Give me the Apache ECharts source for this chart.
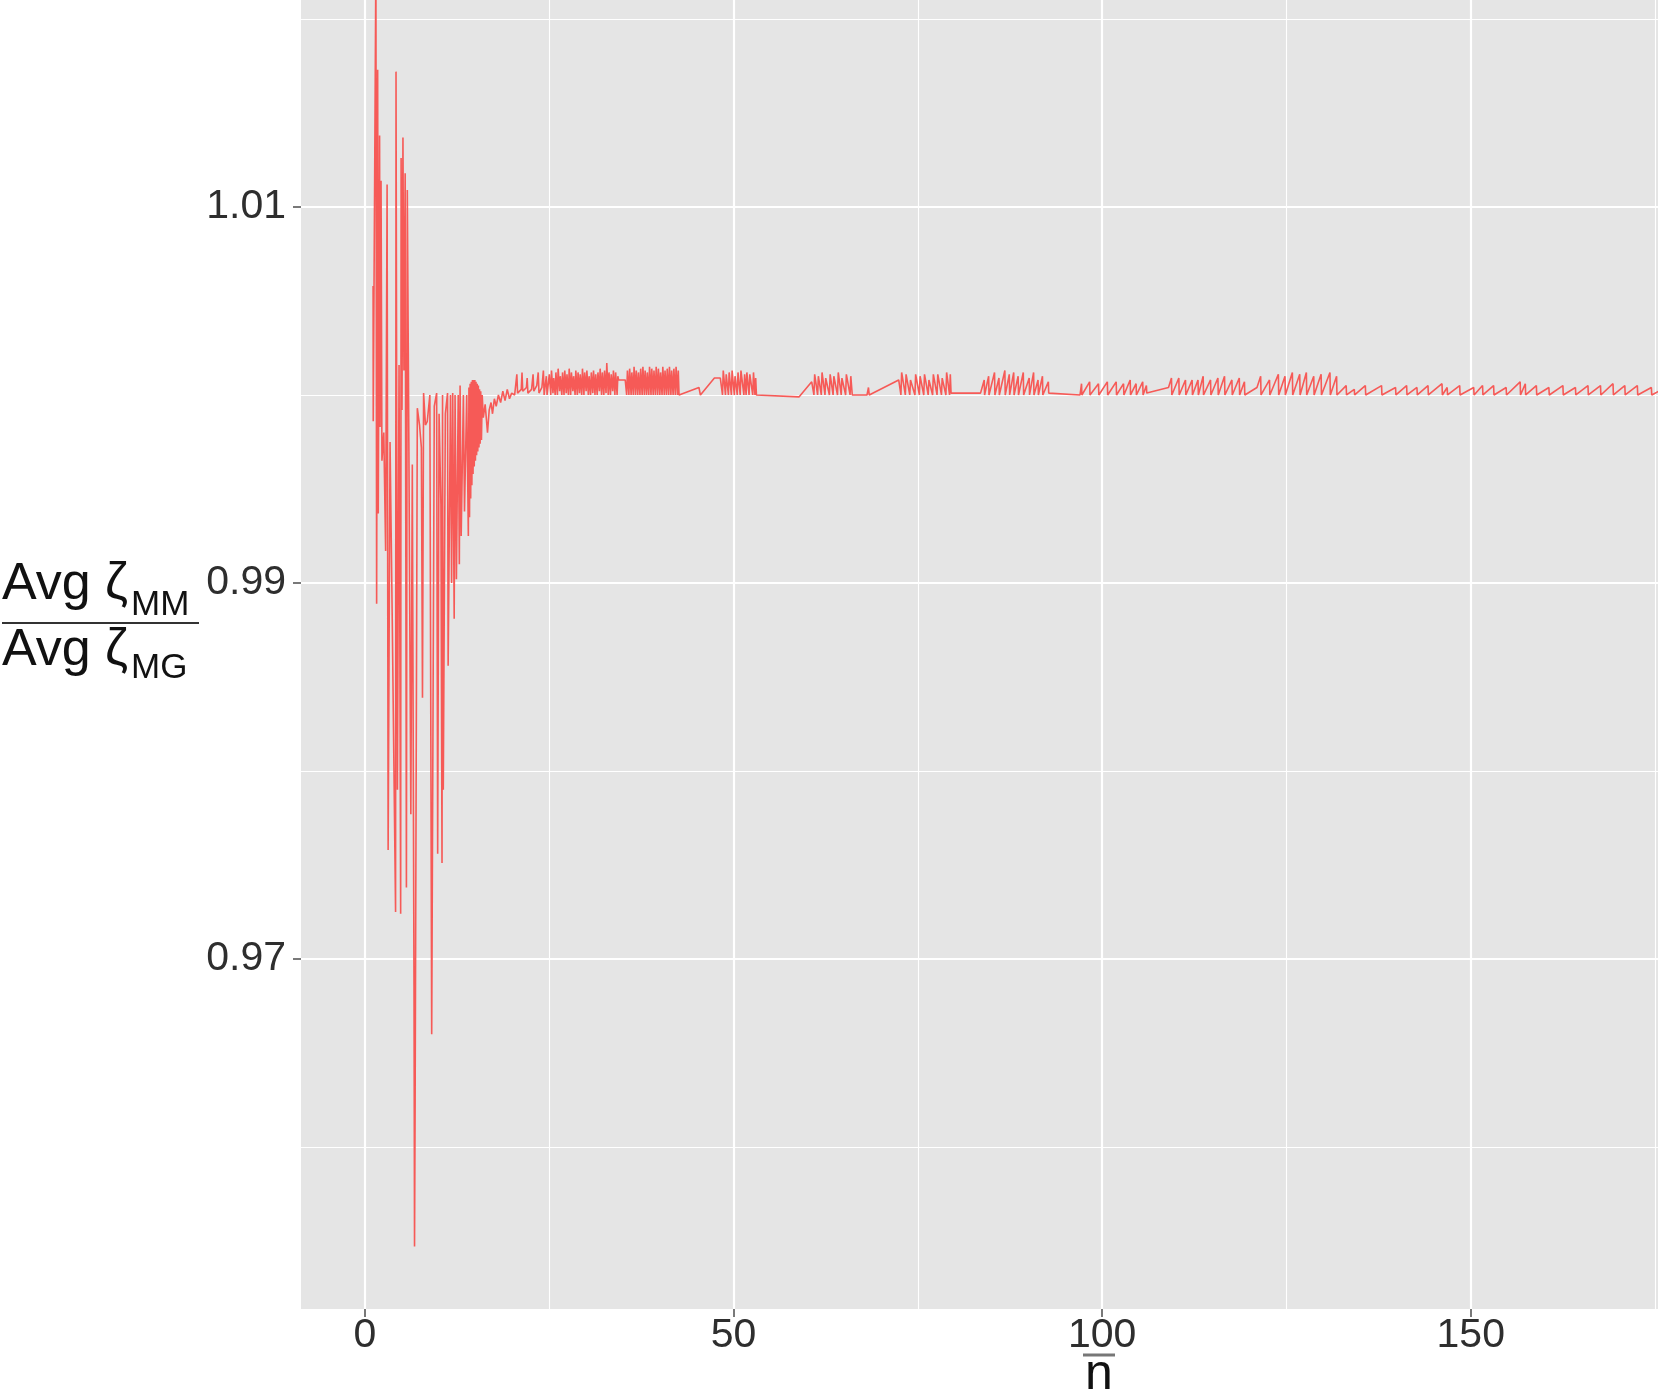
<!DOCTYPE html>
<html>
<head>
<meta charset="utf-8">
<script src="https://cdn.jsdelivr.net/npm/echarts@6/dist/echarts.min.js"></script>
<style>
  html, body { margin: 0; padding: 0; background: #fff; }
  #plot { width: 1658px; height: 1400px; }
</style>
</head>
<body>
<div id="plot"></div>
<script>
// tick positions
const xMajor = [0, 50, 100, 150]
const xMinor = [25, 75, 125, 175]
const yMajor = [0.97, 0.99, 1.01]
const yMinor = [0.96, 0.98, 1.00, 1.02]

// [n bar, Avg zeta_MM / Avg zeta_MG]
const burnIn = [
  [1.10,1.0058],[1.12,0.9986],[1.48,1.0230],[1.58,0.9889],[1.72,1.0173],[1.80,0.9937],
  [1.98,1.0138],[2.05,0.9983],[2.18,1.0114],[2.30,0.9965],[2.55,0.9980],[2.80,0.9917],
  [3.00,1.0112],[3.14,0.9758],[3.40,0.9975],[3.70,0.9880],[4.15,0.9725],[4.21,1.0172],
  [4.40,0.9790],[4.62,1.0016],[4.84,0.9724],[4.90,1.0126],[5.02,0.9992],[5.15,1.0137],
  [5.28,1.0013],[5.45,1.0118],[5.62,0.9738],[5.74,1.0109],[5.95,0.9975],[6.22,0.9777],
  [6.42,0.9963],[6.65,0.9686],[6.72,0.9547],[6.80,0.9622],[7.10,0.9993],[7.40,0.9984],
  [7.65,0.9972],[7.80,0.9839],[7.95,1.0001],[8.20,0.9984],[8.45,0.9986],[8.80,1.0000],
  [9.05,0.9660],[9.40,0.9994],[9.72,1.0001],[9.86,0.9756],[10.05,0.9990],[10.30,0.9942],
  [10.45,0.9751],[10.52,1.0000],[10.62,0.9790],[10.90,0.9990],[11.20,1.0001],[11.28,0.9856],
  [11.60,1.0000],[11.75,0.9900],[11.90,1.0001],[12.10,0.9881],[12.22,1.0000],[12.40,0.9902],
  [12.65,1.0000],[12.80,0.9910],[12.90,1.0005],[13.05,0.9925],[13.35,1.0000],[13.50,0.9938],
  [13.80,1.0000],[14.02,0.9925]
]

const settle = [
  [14.10,1.0004],[14.18,0.9935],[14.26,1.0006],[14.34,0.9945],[14.42,1.0007],[14.50,0.9952],
  [14.58,1.0008],[14.66,0.9958],[14.74,1.0008],[14.82,0.9962],[14.90,1.0008],[14.98,0.9965],
  [15.06,1.0007],[15.14,0.9968],[15.22,1.0006],[15.30,0.9970],[15.38,1.0005],[15.46,0.9972],
  [15.54,1.0003],[15.62,0.9974],[15.70,1.0002],[15.80,0.9976],[15.90,1.0000],[16.05,0.9988],
  [16.30,0.9995],[16.62,0.9980],[16.85,0.9992],[17.10,0.9996],[17.30,0.9990],[17.55,0.9998],
  [17.80,0.9994],[18.10,1.0000],[18.40,0.9996],[18.70,1.0002],[19.00,0.9997],[19.30,1.0003],
  [19.60,0.9998],[19.90,1.0001],
  [20.3,1.0000],[20.6,1.0011],[20.7,1.0001],[21.2,1.0003],[21.3,1.0012],[21.4,1.0002],
  [21.9,1.0004],[22.0,1.0009],[22.1,1.0001],[22.6,1.0003],[22.8,1.0011],[22.9,1.0002],
  [23.3,1.0005],[23.5,1.0012],[23.6,1.0001],[24.0,1.0004],[24.2,1.0013],[24.3,1.0000],
  [24.6,1.0010],[24.7,1.0000]
]

const block1 = [
  [24.9,1.0000],[25.0,1.0011],[25.2,1.0000],[25.3,1.0013],[25.5,1.0001],[25.6,1.0009],[25.8,1.0000],[25.9,1.0012],
  [26.1,1.0000],[26.2,1.0014],[26.4,1.0002],[26.5,1.0010],[26.7,1.0000],[26.8,1.0012],[27.0,1.0000],[27.1,1.0013],
  [27.3,1.0001],[27.4,1.0011],[27.6,1.0000],[27.7,1.0014],[27.9,1.0000],[28.0,1.0012],[28.2,1.0002],[28.3,1.0010],
  [28.5,1.0000],[28.6,1.0013],[28.8,1.0000],[28.9,1.0012],[29.1,1.0001],[29.2,1.0011],[29.4,1.0000],[29.5,1.0014],
  [29.7,1.0000],[29.8,1.0012],[30.0,1.0002],[30.1,1.0013],[30.3,1.0000],[30.4,1.0010],[30.6,1.0000],[30.7,1.0012],
  [30.9,1.0001],[31.0,1.0013],[31.2,1.0000],[31.3,1.0011],[31.5,1.0000],[31.6,1.0012],[31.8,1.0002],[31.9,1.0014],
  [32.1,1.0000],[32.2,1.0012],[32.4,1.0000],[32.5,1.0013],[32.7,1.0001],[32.8,1.0017],[33.0,1.0000],[33.1,1.0012],
  [33.3,1.0000],[33.4,1.0011],[33.6,1.0002],[33.7,1.0013],[33.9,1.0000],[34.0,1.0012],[34.2,1.0000],[34.3,1.0010],
  [34.4,1.0008],[35.3,1.0008],
  [35.5,1.0000],[35.6,1.0013],[35.8,1.0000],[35.9,1.0014],[36.1,1.0000],[36.2,1.0012],[36.4,1.0000],[36.5,1.0015],
  [36.7,1.0000],[36.8,1.0013],[37.0,1.0000],[37.1,1.0012],[37.3,1.0000],[37.4,1.0014],[37.6,1.0000],[37.7,1.0015],
  [37.9,1.0000],[38.0,1.0013],[38.2,1.0000],[38.3,1.0012],[38.5,1.0000],[38.6,1.0015],[38.8,1.0000],[38.9,1.0014],
  [39.1,1.0000],[39.2,1.0013],[39.4,1.0000],[39.5,1.0015],[39.7,1.0000],[39.8,1.0014],[40.0,1.0000],[40.1,1.0012],
  [40.3,1.0000],[40.4,1.0015],[40.6,1.0000],[40.7,1.0013],[40.9,1.0000],[41.0,1.0014],[41.2,1.0000],[41.3,1.0015],
  [41.5,1.0000],[41.6,1.0013],[41.8,1.0000],[41.9,1.0014],[42.1,1.0000],[42.2,1.0015],[42.4,1.0000],[42.5,1.0013],
  [42.6,1.0000]
]

const block2 = [
  [45.3,1.0004],[45.5,1.0000],[47.4,1.0009],[48.2,1.0009],
  [48.5,1.0000],[48.6,1.0013],[48.9,1.0000],[49.0,1.0011],[49.3,1.0000],[49.4,1.0012],[49.7,1.0000],[49.8,1.0013],
  [50.1,1.0000],[50.2,1.0010],[50.5,1.0000],[50.6,1.0012],[50.9,1.0000],[51.0,1.0013],[51.4,1.0000],[51.5,1.0011],
  [51.7,1.0000],[51.8,1.0012],[52.1,1.0000],[52.2,1.0011],[52.6,1.0000],[52.7,1.0012],[52.9,1.0000],[53.0,1.0009],
  [53.1,1.0000],[58.9,0.9999]
]

const block3 = [
  [60.6,1.0007],
  [60.9,1.0000],[61.0,1.0011],[61.4,1.0000],[61.5,1.0010],[61.9,1.0000],[62.0,1.0012],[62.4,1.0000],[62.5,1.0009],
  [63.0,1.0000],[63.1,1.0011],[63.5,1.0000],[63.6,1.0010],[64.1,1.0000],[64.2,1.0012],[64.6,1.0000],[64.7,1.0009],
  [65.2,1.0000],[65.3,1.0011],[65.8,1.0000],[65.9,1.0010],[66.1,1.0000],
  [68.1,1.0000],[68.3,1.0004],[68.4,1.0000],[72.4,1.0008],
  [72.7,1.0000],[72.8,1.0012],[73.3,1.0000],[73.4,1.0011],[73.9,1.0000],[74.0,1.0008],[74.6,1.0000],[74.7,1.0011],
  [75.2,1.0000],[75.3,1.0010],[75.8,1.0000],[75.9,1.0011],[76.4,1.0000],[76.5,1.0008],[77.0,1.0000],[77.1,1.0011],
  [77.6,1.0000],[77.7,1.0011],[78.2,1.0000],[78.3,1.0009],[78.8,1.0000],[78.9,1.0012],[79.3,1.0000],[79.4,1.0011],
  [79.5,1.0001],[83.5,1.0001]
]

const teethMid = [
  [84.0,1.0008],[84.05,1.0000],[84.6,1.0010],[84.65,1.0000],[85.4,1.0012],[85.45,1.0000],[86.0,1.0009],[86.05,1.0000],
  [86.8,1.0013],[86.85,1.0000],[87.4,1.0011],[87.45,1.0000],[88.0,1.0012],[88.05,1.0000],[88.6,1.0010],[88.65,1.0000],
  [89.3,1.0012],[89.35,1.0000],[90.1,1.0009],[90.15,1.0000],[90.7,1.0012],[90.75,1.0000],[91.3,1.0008],[91.35,1.0000],
  [91.9,1.0010],[91.95,1.0000],[92.7,1.0007],[92.75,1.0001],
  [97.0,1.0000],[97.2,1.0006],[97.25,1.0000],
  [98.3,1.0007],[98.35,1.0000],[99.5,1.0006],[99.55,1.0000],[100.7,1.0007],[100.75,1.0000],[101.9,1.0007],[101.95,1.0000],
  [102.9,1.0006],[102.95,1.0000],[103.8,1.0008],[103.85,1.0000],[104.6,1.0006],[104.65,1.0000],[105.5,1.0007],[105.55,1.0000],
  [106.0,1.0005],[106.05,1.0001],[109.0,1.0004],
  [109.4,1.0009],[109.45,1.0000],[110.4,1.0009],[110.45,1.0000],[111.3,1.0008],[111.35,1.0000],[112.2,1.0008],[112.25,1.0000],
  [113.0,1.0008],[113.05,1.0000],[113.7,1.0010],[113.75,1.0000],[114.7,1.0008],[114.75,1.0000],[115.7,1.0009],[115.75,1.0000],
  [116.6,1.0010],[116.65,1.0000],[117.6,1.0008],[117.65,1.0000],[118.6,1.0009],[118.65,1.0000],[119.3,1.0007],[119.35,1.0000],
  [121.0,1.0004]
]

const teethLate = [
  [121.5,1.0010],[121.55,1.0000],[122.7,1.0008],[122.75,1.0000],[123.9,1.0011],[123.95,1.0000],[124.8,1.0010],[124.85,1.0000],
  [125.8,1.0012],[125.85,1.0000],[126.8,1.0011],[126.85,1.0000],[127.7,1.0012],[127.75,1.0000],[128.7,1.0010],[128.75,1.0000],
  [129.7,1.0011],[129.75,1.0000],[130.9,1.0012],[130.95,1.0000],[131.8,1.0010],[131.85,1.0000],
  [133.1,1.0005],[133.15,1.0000],[134.2,1.0003],[134.25,1.0000],[135.7,1.0005],[135.75,1.0000],[137.9,1.0005],[137.95,1.0000],
  [139.8,1.0004],[139.85,1.0000],[141.3,1.0005],[141.35,1.0000],[142.7,1.0004],[142.75,1.0000],[144.2,1.0005],[144.25,1.0000],
  [146.1,1.0006],[146.15,1.0000],[146.8,1.0004],[146.85,1.0000],[148.5,1.0005],[148.55,1.0000],[150.4,1.0004],[150.45,1.0000],
  [151.6,1.0005],[151.65,1.0000],[153.1,1.0005],[153.15,1.0000],[154.8,1.0004],[154.85,1.0000],[156.7,1.0007],[156.75,1.0000],
  [157.4,1.0006],[157.45,1.0000],[158.9,1.0005],[158.95,1.0000],[160.6,1.0004],[160.65,1.0000],[162.5,1.0005],[162.55,1.0000],
  [164.2,1.0004],[164.25,1.0000],[165.9,1.0005],[165.95,1.0000],[167.6,1.0005],[167.65,1.0000],[169.3,1.0006],[169.35,1.0000],
  [170.9,1.0005],[170.95,1.0000],[172.6,1.0005],[172.65,1.0000],[174.5,1.0004],[174.55,1.0000],[176.5,1.0004]
]

const points = [].concat(burnIn, settle, block1, block2, block3, teethMid, teethLate)

let chart = echarts.init(document.getElementById('plot'))
let labelColor = '#2e2e2e'
let font = 'Liberation Sans'

chart.setOption({
  animation: false,
  backgroundColor: '#ffffff',
  grid: {
    left: 301, right: 0, top: 0, bottom: 91,
    show: true, backgroundColor: '#e5e5e5', borderWidth: 0
  },
  xAxis: [
    {
      type: 'value', min: -8.68, max: 175.4,
      axisLine: { show: false, onZero: false },
      axisTick: { show: true, length: 8, customValues: xMajor, lineStyle: { color: '#4d4d4d', width: 1.5 } },
      axisLabel: { customValues: xMajor, fontSize: 41, color: labelColor, fontFamily: font, margin: 6 },
      splitLine: { show: true, lineStyle: { color: '#ffffff', width: 2.2 } }
    },
    {
      type: 'value', min: -8.68, max: 175.4,
      axisLine: { show: false, onZero: false },
      axisTick: { show: false, customValues: xMinor },
      axisLabel: { show: false },
      splitLine: { show: true, lineStyle: { color: '#ffffff', width: 1.1 } }
    }
  ],
  yAxis: [
    {
      type: 'value', min: 0.95138, max: 1.02101,
      axisLine: { show: false, onZero: false },
      axisTick: { show: true, length: 8, customValues: yMajor, lineStyle: { color: '#4d4d4d', width: 1.5 } },
      axisLabel: { customValues: yMajor, fontSize: 41, color: labelColor, fontFamily: font, margin: 15 },
      splitLine: { show: true, lineStyle: { color: '#ffffff', width: 2.2 } }
    },
    {
      type: 'value', min: 0.95138, max: 1.02101,
      axisLine: { show: false, onZero: false },
      axisTick: { show: false, customValues: yMinor },
      axisLabel: { show: false },
      splitLine: { show: true, lineStyle: { color: '#ffffff', width: 1.1 } }
    }
  ],
  graphic: [
    { type: 'text', x: 2, y: 585, style: { text: 'Avg ζ', fontSize: 52, fontFamily: font, fill: '#111', verticalAlign: 'middle' } },
    { type: 'text', x: 131, y: 605, style: { text: 'MM', fontSize: 35, fontFamily: font, fill: '#111', verticalAlign: 'middle' } },
    { type: 'line', shape: { x1: 2, y1: 623, x2: 199, y2: 623 }, style: { stroke: '#333', lineWidth: 2 } },
    { type: 'text', x: 2, y: 651, style: { text: 'Avg ζ', fontSize: 52, fontFamily: font, fill: '#111', verticalAlign: 'middle' } },
    { type: 'text', x: 131, y: 668, style: { text: 'MG', fontSize: 35, fontFamily: font, fill: '#111', verticalAlign: 'middle' } },
    { type: 'line', shape: { x1: 1083, y1: 1355, x2: 1115, y2: 1355 }, style: { stroke: '#777', lineWidth: 3 } },
    { type: 'text', x: 1099, y: 1375, style: { text: 'n', fontSize: 50, fontFamily: font, fill: '#111', align: 'center', verticalAlign: 'middle' } }
  ],
  series: [
    {
      type: 'line',
      data: points,
      xAxisIndex: 0,
      yAxisIndex: 0,
      symbol: 'none',
      showSymbol: false,
      clip: true,
      lineStyle: { color: '#f65a57', width: 1.6 },
      z: 5
    }
  ]
})
</script>
</body>
</html>
